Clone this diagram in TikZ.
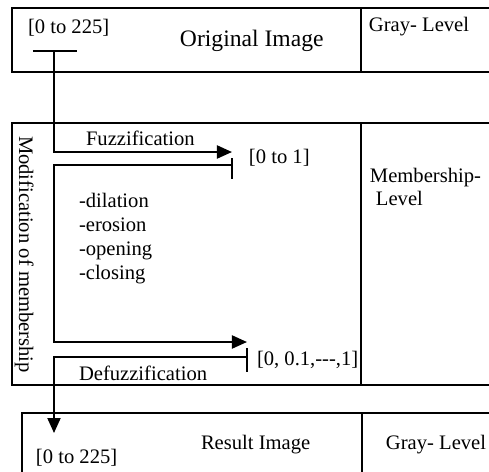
\documentclass[tikz,border=0pt]{standalone}
\usepackage{fontspec}
\setmainfont{Liberation Serif}
\usetikzlibrary{arrows.meta}
\begin{document}
\begin{tikzpicture}[x=0.5pt,y=-0.5pt,
  line width=1pt,
  lbl/.style={anchor=base west, inner sep=0pt, font=\fontsize{10.3}{12}\selectfont},
  biglbl/.style={anchor=base west, inner sep=0pt, font=\fontsize{11.8}{14}\selectfont},
  arr/.style={-{Triangle[length=7.5pt,width=6.5pt]}},
  boxline/.style={line width=1pt}]
\useasboundingbox (0,0) rectangle (489,472);
\clip (0,0) rectangle (489,472);
% boxes
\draw[boxline] (12,8) rectangle (500,72);
\draw[boxline] (361,8) -- (361,72);
\draw[boxline] (12,123) rectangle (500,385);
\draw[boxline] (361,123) -- (361,385);
\draw[boxline] (22,480) -- (22,413) -- (500,413);
\draw[boxline] (362,413) -- (362,480);
% texts
\node[lbl] (in) at (27,33) {[0 to 225]};
\node[biglbl] (orig) at (179,46.7) {Original Image};
\node[lbl] (gl1) at (368,31.7) {Gray- Level};
\node[lbl] (fuz) at (85,145) {Fuzzification};
\node[lbl] (mem1) at (248,163) {[0 to 1]};
\node[lbl] (ml1) at (369,182.7) {Membership-};
\node[lbl] (ml2) at (375,205) {Level};
\node[lbl] (op1) at (78,207) {-dilation};
\node[lbl] (op2) at (78,231) {-erosion};
\node[lbl] (op3) at (78,255) {-opening};
\node[lbl] (op4) at (78,279) {-closing};
\node[lbl, rotate=-90] (mod) at (19,135) {Modification of membership};
\node[lbl] (mem2) at (256,365) {[0, 0.1,{-}{-}{-},1]};
\node[lbl] (defuz) at (78,380) {Defuzzification};
\node[lbl] (out) at (35,463) {[0 to 225]};
\node[lbl] (res) at (200,449) {Result Image};
\node[lbl] (gl2) at (385,449) {Gray- Level};
% connector coordinates
\coordinate (barL) at (33,51);
\coordinate (barR) at (77,51);
\coordinate (barM) at (54,51);
\coordinate (f1) at (54,152);
\coordinate (f1e) at (232,152);
\coordinate (t1) at (232,165);
\coordinate (t1a) at (232,158);
\coordinate (t1b) at (232,179);
\coordinate (f2) at (54,165);
\coordinate (f3) at (54,342);
\coordinate (f3e) at (247,342);
\coordinate (t2) at (247,357);
\coordinate (t2a) at (247,348);
\coordinate (t2b) at (247,372);
\coordinate (d1) at (54,357);
\coordinate (d2) at (54,433);
% connectors
\draw (barL) -- (barR);
\draw[arr] (barM) -- (f1) -- (f1e);
\draw (t1a) -- (t1b);
\draw[arr] (t1) -- (f2) -- (f3) -- (f3e);
\draw (t2a) -- (t2b);
\draw[arr] (t2) -- (d1) -- (d2);
\end{tikzpicture}
\end{document}
